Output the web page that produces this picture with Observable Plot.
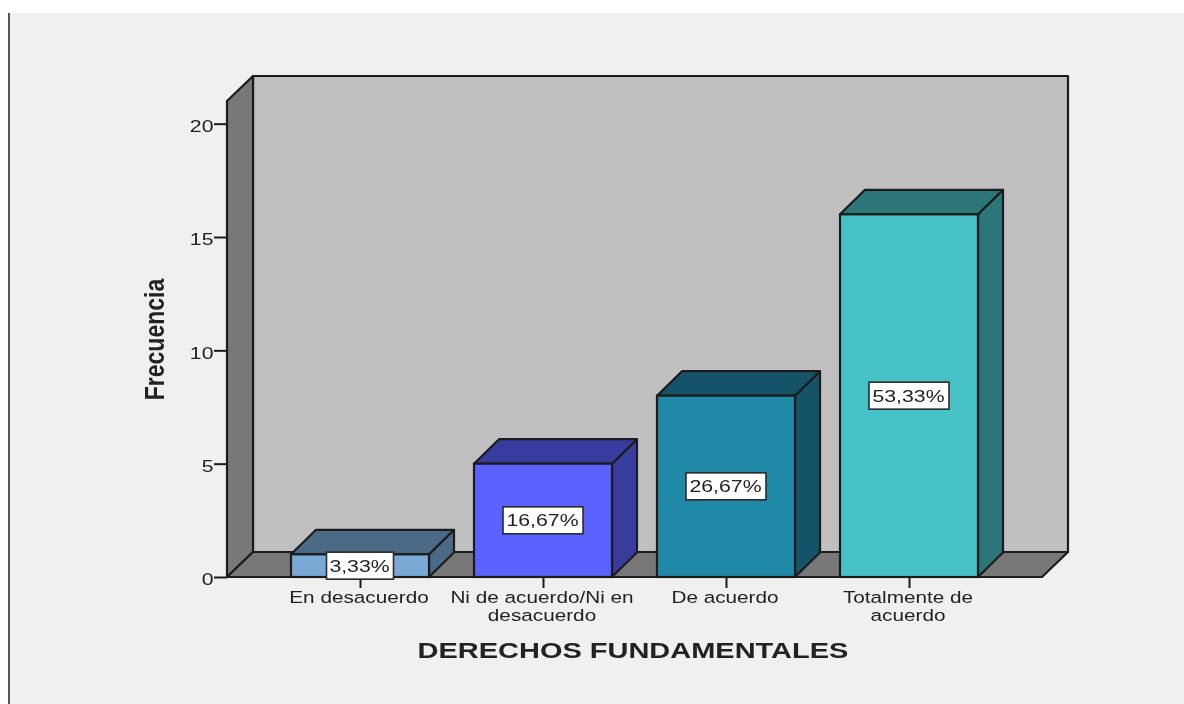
<!DOCTYPE html>
<html><head><meta charset="utf-8">
<script src="https://cdn.jsdelivr.net/npm/d3@7"></script>
<script src="https://cdn.jsdelivr.net/npm/@observablehq/plot@0.6"></script>
<style>
html,body{margin:0;padding:0;background:#fff;overflow:hidden}
#panel{position:absolute;left:8px;top:13px;width:1176px;height:691px;box-sizing:border-box;background:#f0f0f0;border-left:2px solid #555}
#chart{position:absolute;left:0;top:0}
svg{background:transparent!important;display:block;filter:blur(0.5px)}
</style></head><body>
<div id="panel"></div><div id="chart"></div>
<script>
const categories = ["En desacuerdo","Ni de acuerdo/Ni en\ndesacuerdo","De acuerdo","Totalmente de\nacuerdo"];
const frequencies = [1,5,8,16];
const percentLabels = ["3,33%","16,67%","26,67%","53,33%"];
const frontColors = ["#7aa9d6","#5b62ff","#2189a8","#46c1c6"];
const sideColors = ["#4a6a85","#393c9f","#155468","#2c7579"];
const yTicks = [0,5,10,15,20];
const yMax = 21;
const xTitle = "DERECHOS FUNDAMENTALES";
const yTitle = "Frecuencia";

const rows = categories.map((c,i)=>({c,f:frequencies[i],p:percentLabels[i],front:frontColors[i],side:sideColors[i]}));
const WALL_DX=26, WALL_DY=25, BAR_DX=25, BAR_DY=24.5, INK="#1c1c1c", SW=2.2;
const svgNS="http://www.w3.org/2000/svg";
function poly(points,fill){
  const p=document.createElementNS(svgNS,"polygon");
  p.setAttribute("points",points.map(q=>q.join(",")).join(" "));
  p.setAttribute("fill",fill);p.setAttribute("stroke",INK);
  p.setAttribute("stroke-width",SW);p.setAttribute("stroke-linejoin","round");
  return p;
}
function walls(index,scales,values,dim){
  const g=document.createElementNS(svgNS,"g");
  const l=dim.marginLeft,r=dim.width-dim.marginRight,t=scales.y(yMax),b=scales.y(0);
  g.append(
    poly([[l+WALL_DX,t-WALL_DY],[r+WALL_DX,t-WALL_DY],[r+WALL_DX,b-WALL_DY],[l+WALL_DX,b-WALL_DY]],"#c0c0c0"),
    poly([[l,t],[l+WALL_DX,t-WALL_DY],[l+WALL_DX,b-WALL_DY],[l,b]],"#787878"),
    poly([[l,b],[l+WALL_DX,b-WALL_DY],[r+WALL_DX,b-WALL_DY],[r,b]],"#787878")
  );
  return g;
}
function bw(s){return typeof s.bandwidth==="function"?s.bandwidth():s.bandwidth;}
function boxes(index,scales,values,dim){
  const g=document.createElementNS(svgNS,"g");
  const w=bw(scales.x), y0=scales.y(0);
  for(const d of rows){
    const x=scales.x(d.c), y=scales.y(d.f);
    g.append(
      poly([[x+w,y],[x+w+BAR_DX,y-BAR_DY],[x+w+BAR_DX,y0-BAR_DY],[x+w,y0]],d.side),
      poly([[x,y],[x+BAR_DX,y-BAR_DY],[x+w+BAR_DX,y-BAR_DY],[x+w,y]],d.side)
    );
  }
  return g;
}
function labelBoxes(index,scales,values,dim,context,next){
  const g=document.createElementNS(svgNS,"g");
  const w=bw(scales.x);
  for(const d of rows){
    const cx=scales.x(d.c)+w/2, cy=scales.y(d.f/2);
    const bwid=13*d.p.length+2, h=27;
    const r=document.createElementNS(svgNS,"rect");
    r.setAttribute("x",cx-bwid/2);r.setAttribute("y",cy-h/2);
    r.setAttribute("width",bwid);r.setAttribute("height",h);
    r.setAttribute("fill","#fff");r.setAttribute("stroke","#2a2a2a");r.setAttribute("stroke-width",1.6);
    g.append(r);
  }
  g.append(next(index,scales,values,dim,context));
  return g;
}
const chart = Plot.plot({
  width:1184,height:704,
  marginLeft:227,marginRight:142,marginTop:101,marginBottom:127,
  style:{fontFamily:"'Liberation Sans',Arial,sans-serif",fontSize:"17px",color:"#222",background:"transparent"},
  x:{type:"band",domain:categories,range:[245,1023.6],padding:0.247,label:null},
  y:{domain:[0,yMax],label:null},
  marks:[
    walls,
    Plot.axisY({ticks:yTicks,tickSize:13,tickPadding:1,label:yTitle,labelArrow:"none",labelAnchor:"center",labelOffset:64,stroke:INK,strokeWidth:2,fontSize:17}),
    Plot.axisX({tickSize:11,tickPadding:2,label:xTitle,labelArrow:"none",labelAnchor:"center",labelOffset:80,lineHeight:1.06,stroke:INK,strokeWidth:2,fontSize:17}),
    boxes,
    Plot.barY(rows,{x:"c",y:"f",fill:"front",stroke:INK,strokeWidth:SW}),
    Plot.text(rows,{x:"c",y:d=>d.f/2,text:"p",fontSize:17,fill:"#222",render:labelBoxes})
  ]
});
// The reference image is stretched sideways: every text keeps its glyphs but widens on screen.
function stretch(nodes,sx,sy,dx=0,dy=0){
  nodes.each(function(){
    const t=this.getAttribute("transform")||"";
    this.setAttribute("transform",`translate(${dx},${dy}) ${t} scale(${sx},${sy})`);
  });
}
const root=d3.select(chart);
stretch(root.selectAll("[aria-label='y-axis tick label'] text"),1.25,1,0,2.5);
stretch(root.selectAll("[aria-label='x-axis tick label'] text"),1.22,1,-1.5,0);
stretch(root.selectAll("text").filter(function(){return percentLabels.includes(this.textContent);}),1.25,1,-1,0);
root.select("[aria-label='x-axis label'] text").style("font-weight","bold").style("font-size","22px");
root.select("[aria-label='y-axis label'] text").style("font-weight","bold").style("font-size","23px");
stretch(root.selectAll("[aria-label='x-axis label'] text"),1.317,1,-2,0);
stretch(root.selectAll("[aria-label='y-axis label'] text"),1,1.22,-19,0);
document.getElementById("chart").append(chart);
</script></body></html>
